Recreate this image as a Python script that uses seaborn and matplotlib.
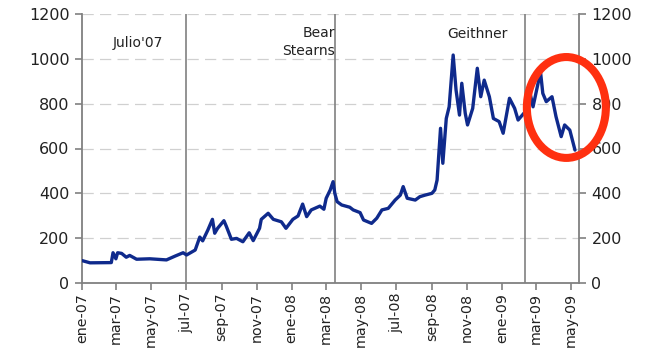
import matplotlib
matplotlib.use("Agg")
import matplotlib.pyplot as plt
from matplotlib.patches import Ellipse
import pandas as pd
import seaborn as sns

# Series (daily index level, sampled at turning points)
dates = [
    "2007-01-01", "2007-01-15", "2007-02-21", "2007-02-24", "2007-03-01", "2007-03-04",
    "2007-03-11", "2007-03-19", "2007-03-25", "2007-04-06", "2007-04-29", "2007-05-28",
    "2007-06-12", "2007-06-26", "2007-07-02", "2007-07-17", "2007-07-25", "2007-07-30",
    "2007-08-08", "2007-08-16", "2007-08-20", "2007-08-25", "2007-09-05", "2007-09-09",
    "2007-09-18", "2007-09-27", "2007-10-08", "2007-10-19", "2007-10-26", "2007-11-06",
    "2007-11-09", "2007-11-21", "2007-11-30", "2007-12-14", "2007-12-22", "2008-01-03",
    "2008-01-12", "2008-01-20", "2008-01-27", "2008-02-04", "2008-02-19", "2008-02-26",
    "2008-03-01", "2008-03-08", "2008-03-13", "2008-03-16", "2008-03-20", "2008-03-28",
    "2008-04-11", "2008-04-17", "2008-04-29", "2008-05-05", "2008-05-19", "2008-05-28",
    "2008-06-06", "2008-06-17", "2008-06-29", "2008-07-08", "2008-07-13", "2008-07-20",
    "2008-08-03", "2008-08-11", "2008-08-20", "2008-09-01", "2008-09-06", "2008-09-10",
    "2008-09-16", "2008-09-20", "2008-09-26", "2008-10-01", "2008-10-08", "2008-10-13",
    "2008-10-19", "2008-10-23", "2008-10-29", "2008-11-02", "2008-11-11", "2008-11-19",
    "2008-11-25", "2008-12-01", "2008-12-10", "2008-12-17", "2008-12-27", "2009-01-03",
    "2009-01-14", "2009-01-23", "2009-01-29", "2009-02-13", "2009-02-17", "2009-02-24",
    "2009-03-09", "2009-03-13", "2009-03-19", "2009-03-29", "2009-04-05", "2009-04-14",
    "2009-04-20", "2009-04-29", "2009-05-08",
]
values = [
    100, 90, 91, 135, 108, 135,
    132, 115, 123, 106, 108, 103,
    120, 135, 125, 147, 205, 188,
    236, 284, 222, 244, 278, 254,
    195, 199, 184, 224, 189, 244,
    284, 311, 284, 273, 244, 284,
    299, 352, 296, 326, 343, 329,
    378, 415, 452, 400, 363, 348,
    338, 326, 314, 281, 266, 289,
    326, 333, 370, 392, 430, 378,
    370, 385, 392, 400, 415, 459,
    690, 534, 734, 786, 1017, 861,
    749, 891, 757, 705, 779, 958,
    831, 905, 831, 734, 720, 668,
    824, 779, 727, 772, 868, 786,
    942, 846, 809, 831, 742, 653,
    705, 682, 593,
]

# Event markers
event_dates = ["2007-07-01", "2008-03-17", "2009-02-10"]
event_labels = ["Julio'07", "Bear\nStearns", "Geithner"]

# Axis ticks
tick_dates = ["2007-01-01", "2007-03-01", "2007-05-01", "2007-07-01", "2007-09-01",
              "2007-11-01", "2008-01-01", "2008-03-01", "2008-05-01", "2008-07-01",
              "2008-09-01", "2008-11-01", "2009-01-01", "2009-03-01", "2009-05-01"]
tick_labels = ["ene-07", "mar-07", "may-07", "jul-07", "sep-07", "nov-07", "ene-08",
               "mar-08", "may-08", "jul-08", "sep-08", "nov-08", "ene-09", "mar-09",
               "may-09"]
y_ticks = [0, 200, 400, 600, 800, 1000, 1200]

df = pd.DataFrame({"fecha": pd.to_datetime(dates), "valor": values})

sns.set_style("white")
plt.rcParams["font.family"] = ["DejaVu Sans"]

fig = plt.figure(figsize=(6.63, 3.52), dpi=100)
ax = fig.add_axes([82 / 663, 1 - 283 / 352, (579 - 82) / 663, (283 - 14) / 352])

grey = "#808080"
for y in y_ticks[1:]:
    ax.axhline(y, color="#d0d0d0", lw=0.9, ls=(0, (9, 5)), zorder=0)

for d in event_dates:
    ax.axvline(pd.Timestamp(d), color=grey, lw=1.2, zorder=1)

sns.lineplot(data=df, x="fecha", y="valor", ax=ax, color="#0f2a8c", lw=2.4, zorder=3)

ax.set_xlim(pd.Timestamp("2007-01-01"), pd.Timestamp("2009-05-15"))
ax.set_ylim(0, 1200)
ax.set_xlabel("")
ax.set_ylabel("")

ax.set_xticks(pd.to_datetime(tick_dates))
ax.set_xticklabels(tick_labels, rotation=90, fontsize=10.3, color="#222222")
ax.set_yticks(y_ticks)
ax.set_yticklabels([str(v) for v in y_ticks], fontsize=11.5, color="#222222")

ax.tick_params(axis="both", direction="out", length=5, width=1.2, color=grey)
ax.tick_params(axis="y", labelright=True, right=True, left=True, pad=4)
ax.tick_params(axis="x", bottom=True, pad=2)

for side in ["left", "right", "bottom"]:
    ax.spines[side].set_color(grey)
    ax.spines[side].set_linewidth(1.3)
ax.spines["top"].set_visible(False)

# Event annotations
ax.text(pd.Timestamp("2007-04-08"), 1070, event_labels[0], ha="center", va="center",
        fontsize=10, color="#222222")
ax.text(pd.Timestamp("2008-03-16"), 1075, event_labels[1], ha="right", va="center",
        fontsize=10, color="#222222", linespacing=1.3)
ax.text(pd.Timestamp("2008-11-20"), 1110, event_labels[2], ha="center", va="center",
        fontsize=10, color="#222222")

# Highlight around the latest movement
ax.add_patch(Ellipse((pd.Timestamp("2009-04-23"), 783), width=137.5, height=450,
                     fill=False, edgecolor="#ff3010", lw=5.8, clip_on=False, zorder=5))

fig.savefig("out.png", dpi=100)
